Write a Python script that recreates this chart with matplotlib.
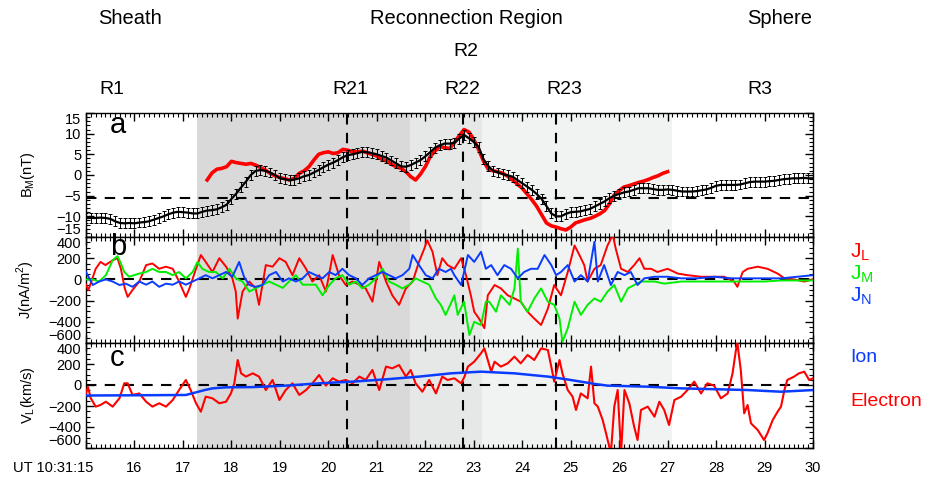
import matplotlib
matplotlib.use("Agg")
import matplotlib.pyplot as plt
from matplotlib.ticker import MultipleLocator
from matplotlib.transforms import ScaledTranslation

plt.rcParams["font.family"] = ["Liberation Sans", "DejaVu Sans"]

# B_M model (black, 0.1 s cadence from 10:31:15)
BM_T = [15.0 + 0.1 * i for i in range(151)]
BM_BLACK = [
    -10.4, -10.4, -10.4, -10.3, -10.4, -10.6, -11.2, -11.6, -11.7, -11.6,
    -11.7, -11.5, -11.4, -11.2, -10.8, -10.4, -10.0, -9.5, -9.1, -8.9,
    -9.0, -9.1, -9.3, -9.3, -8.9, -8.6, -8.5, -8.3, -7.8, -7.2,
    -5.8, -4.5, -3.0, -1.6, 0.0, 1.0, 1.2, 1.0, 0.6, 0.0,
    -0.8, -1.0, -1.3, -1.1, -0.8, -0.3, 0.0, 0.6, 1.2, 1.9,
    2.5, 3.0, 3.6, 4.3, 4.8, 5.0, 5.3, 5.6, 5.5, 5.3,
    5.0, 4.6, 4.2, 3.5, 2.8, 2.1, 2.0, 2.4, 3.0, 3.6,
    4.5, 5.5, 6.6, 7.2, 7.6, 7.6, 7.8, 8.8, 9.7, 8.9,
    8.0, 6.8, 3.8, 2.2, 1.0, 0.6, 0.2, -0.1, -0.4, -1.2,
    -2.0, -2.8, -3.6, -4.6, -5.8, -7.5, -9.3, -10.0, -10.0, -9.4,
    -9.0, -8.9, -8.8, -8.5, -8.2, -7.6, -7.0, -6.4, -5.6, -5.0,
    -4.6, -4.2, -4.0, -3.6, -3.2, -3.2, -3.2, -3.4, -3.6, -3.6,
    -3.5, -3.6, -3.8, -4.0, -4.0, -4.0, -3.9, -3.7, -3.5, -3.1,
    -2.6, -2.4, -2.4, -2.4, -2.4, -2.3, -2.0, -1.7, -1.6, -1.6,
    -1.6, -1.5, -1.4, -1.2, -1.0, -0.9, -0.8, -0.8, -0.7, -0.8,
    -0.8,
]
BM_ERR = 1.2

# B_M observed (red)
BMR_T = [17.5 + 0.1 * i for i in range(96)]
BM_RED = [
    -1.2, 0.5, 1.4, 1.6, 2.0, 3.3, 3.0, 2.8, 2.6, 2.8,
    2.4, 1.8, 1.2, 0.4, -0.2, -0.6, -0.9, -1.2, -0.8, 0.4,
    1.0, 2.0, 3.6, 5.0, 5.4, 5.6, 5.2, 5.4, 6.2, 6.0,
    5.6, 5.6, 5.8, 5.4, 5.0, 4.6, 3.8, 3.4, 2.6, 2.0,
    1.6, 0.8, -0.4, -1.2, 0.2, 2.0, 4.4, 5.8, 6.9, 6.6,
    6.4, 7.8, 9.5, 11.0, 10.4, 8.6, 6.2, 3.4, 1.4, 1.0,
    0.8, 0.4, -0.3, -1.2, -2.2, -3.2, -4.6, -6.0, -7.6, -9.6,
    -11.6, -12.3, -12.6, -13.0, -13.3, -12.6, -11.6, -11.2, -10.8, -10.5,
    -10.0, -9.4, -8.6, -7.0, -4.8, -3.8, -2.9, -2.6, -2.2, -1.8,
    -1.5, -1.1, -0.6, -0.2, 0.4, 0.8,
]
BM_REF = -5.5

# current density components (nA/m^2)
JL_T = [15.0, 15.05, 15.2, 15.3, 15.4, 15.55, 15.65, 15.72, 15.8, 15.86, 15.96, 16.1, 16.24, 16.37,
        16.51, 16.65, 16.79, 16.92, 17.06, 17.13, 17.27, 17.37, 17.47, 17.61, 17.75, 17.89, 18.02,
        18.09, 18.13, 18.23, 18.37, 18.5, 18.57, 18.71, 18.85, 18.99, 19.12, 19.26, 19.4, 19.54,
        19.67, 19.81, 19.95, 20.09, 20.22, 20.36, 20.5, 20.64, 20.77, 20.91, 21.05, 21.19, 21.32,
        21.46, 21.6, 21.74, 21.87, 21.98, 22.04, 22.15, 22.25, 22.35, 22.46, 22.6, 22.74, 22.84,
        22.94, 23.01, 23.11, 23.22, 23.29, 23.43, 23.56, 23.7, 23.84, 23.97, 24.11, 24.25, 24.39,
        24.53, 24.66, 24.8, 24.94, 25.08, 25.18, 25.28, 25.35, 25.49, 25.62, 25.76, 25.87, 25.93,
        26.04, 26.18, 26.31, 26.42, 26.52, 26.66, 26.79, 27.0, 27.21, 27.41, 27.69, 27.96, 28.17,
        28.37, 28.44, 28.55, 28.65, 28.86, 29.06, 29.27, 29.41, 29.61, 29.82, 30.0]
JL = [-50, -100, 100, 165, 135, 180, 200, 100, -85, -165, -100, -20, 135, 150,
      100, 120, 100, -20, -165, -90, 100, 230, 165, 70, 200, 120, 10,
      -115, -370, -115, -20, -85, -240, 135, 120, 200, 165, 40, 200, 100,
      -20, 40, -115, 230, 40, -53, -20, -50, -85, -210, 165, -20, -150,
      -240, -85, -20, 165, 290, 370, 260, 40, 200, 135, 100, 200, 40,
      -150, -305, -370, -460, -150, -53, -85, -150, -180, -210, -305, -370, -430,
      -275, -53, -150, 70, 320, 230, 135, -20, 100, 135, 320, 420, 290,
      100, 70, 135, 200, 100, 100, 70, 100, 55, 40, 25, 25, 25,
      -20, -70, 70, 100, 120, 100, 55, 10, 0, -20, 0]

JM_T = [15.0, 15.14, 15.27, 15.41, 15.55, 15.65, 15.72, 15.79, 15.89, 16.1, 16.24, 16.37, 16.51,
        16.65, 16.79, 16.92, 17.06, 17.2, 17.3, 17.4, 17.54, 17.68, 17.82, 17.96, 18.09, 18.23,
        18.37, 18.5, 18.64, 18.78, 18.92, 19.06, 19.19, 19.33, 19.47, 19.6, 19.74, 19.88, 20.02,
        20.15, 20.29, 20.43, 20.57, 20.7, 20.84, 20.98, 21.12, 21.25, 21.39, 21.53, 21.67, 21.8,
        21.94, 22.08, 22.22, 22.32, 22.42, 22.53, 22.6, 22.67, 22.8, 22.91, 23.01, 23.15, 23.25,
        23.32, 23.46, 23.56, 23.74, 23.84, 23.91, 23.97, 24.11, 24.25, 24.39, 24.53, 24.66, 24.77,
        24.83, 24.94, 25.08, 25.21, 25.35, 25.49, 25.62, 25.76, 25.9, 26.04, 26.18, 26.31, 26.45,
        26.59, 26.73, 26.93, 27.28, 27.62, 27.96, 28.31, 28.65, 29.0, 29.34, 29.68, 30.0]
JM = [0, 0, -20, 40, 180, 220, 150, 70, 25, 55, 70, 100, 70,
      70, 40, 70, 10, 70, 165, 100, 70, 70, 10, 100, 10, -20,
      -115, -85, -53, -20, -50, -80, -20, 40, -50, -50, -50, -150, -53,
      10, 40, -50, -20, -85, -50, 10, 100, -20, -50, -85, -50, 10,
      -20, -50, -180, -240, -335, -225, -150, -335, -210, -525, -400, -430, -210,
      -210, -305, -150, -240, -85, 290, -210, -305, -180, -85, -210, -240, -370,
      -590, -460, -210, -335, -240, -180, -210, -115, -53, -210, -85, -53, -20,
      -20, -20, -40, -20, -20, -20, -20, -20, -20, -10, -10, -10]

JN_T = [15.0, 15.14, 15.27, 15.41, 15.55, 15.69, 15.82, 15.96, 16.1, 16.24, 16.37, 16.51, 16.65,
        16.79, 16.92, 17.06, 17.2, 17.34, 17.47, 17.61, 17.75, 17.89, 18.02, 18.16, 18.26, 18.37,
        18.5, 18.64, 18.78, 18.92, 19.06, 19.19, 19.33, 19.47, 19.6, 19.74, 19.88, 20.02, 20.15,
        20.29, 20.43, 20.57, 20.7, 20.84, 20.98, 21.12, 21.25, 21.39, 21.53, 21.67, 21.74, 21.87,
        22.01, 22.15, 22.28, 22.42, 22.53, 22.6, 22.74, 22.88, 23.01, 23.15, 23.25, 23.36, 23.49,
        23.63, 23.77, 23.91, 24.04, 24.18, 24.32, 24.46, 24.6, 24.7, 24.8, 24.94, 25.08, 25.21,
        25.35, 25.49, 25.56, 25.69, 25.83, 25.97, 26.11, 26.24, 26.38, 26.52, 26.73, 27.0, 27.28,
        27.62, 27.96, 28.31, 28.65, 29.0, 29.34, 29.68, 30.0]
JN = [70, -53, -20, 0, -20, -53, -40, -70, -20, -50, -20, -70, -40,
      -50, -20, -50, -20, 10, 40, 10, 40, 70, 25, 165, 25, -53,
      -70, -53, 40, 70, -20, 10, -20, 10, 70, 40, 10, 70, 40,
      100, 40, 10, -53, 10, 40, 70, 40, 10, 40, 100, 230, 135,
      40, 10, 100, 70, 100, 40, -53, 230, 165, 260, 100, 135, 40,
      135, 100, 10, 70, 100, 100, 230, 135, 40, 70, 135, -20, 40,
      -20, 355, -20, 135, -53, 70, 40, 70, -53, 10, 25, 25, 10,
      10, 25, 10, 10, 10, 10, 25, 40]

# L-component velocities (km/s)
VE_T = [15.0, 15.04, 15.1, 15.2, 15.3, 15.41, 15.55, 15.69, 15.79, 15.86, 15.96, 16.1, 16.24,
        16.37, 16.51, 16.65, 16.79, 16.92, 17.06, 17.16, 17.27, 17.37, 17.47, 17.61, 17.75, 17.89,
        17.99, 18.06, 18.13, 18.2, 18.3, 18.44, 18.57, 18.71, 18.85, 18.99, 19.12, 19.26, 19.4,
        19.54, 19.67, 19.81, 19.95, 20.09, 20.22, 20.36, 20.5, 20.64, 20.77, 20.91, 21.05, 21.19,
        21.32, 21.46, 21.6, 21.7, 21.8, 21.94, 22.08, 22.22, 22.35, 22.46, 22.6, 22.74, 22.81,
        22.88, 23.01, 23.15, 23.22, 23.29, 23.36, 23.43, 23.56, 23.7, 23.84, 23.97, 24.11, 24.25,
        24.39, 24.53, 24.6, 24.66, 24.77, 24.83, 24.94, 25.04, 25.11, 25.21, 25.35, 25.42, 25.49,
        25.56, 25.66, 25.73, 25.83, 25.9, 25.97, 26.04, 26.11, 26.21, 26.31, 26.38, 26.45, 26.59,
        26.73, 26.83, 26.93, 27.03, 27.14, 27.28, 27.41, 27.55, 27.69, 27.82, 27.96, 28.1, 28.24,
        28.34, 28.41, 28.44, 28.51, 28.58, 28.65, 28.72, 28.86, 28.99, 29.06, 29.17, 29.27, 29.34,
        29.41, 29.47, 29.61, 29.71, 29.82, 29.92, 30.0]
VE = [-80, -20, -127, -206, -190, -159, -206, -127, 16, 16, -95, -80, -159,
      -206, -174, -206, -143, -48, 48, -48, -174, -254, -111, -127, -174, -159,
      -80, 16, 238, 111, 80, 111, 80, -48, 48, -143, -48, 16, -95,
      -48, 16, 95, -6, 64, 32, 48, 16, 80, 48, 143, -48, 175,
      159, 190, 80, 143, 16, -64, 48, -80, 80, 48, 64, 16, 80,
      175, 222, 302, 349, 238, 127, 222, 175, 206, 270, 206, 286, 238,
      349, 333, 175, 32, 238, 111, -48, -111, -238, -80, -127, 175, -174,
      -206, -333, -460, -650, -206, -48, -650, -48, -174, -397, -524, -238, -206,
      -302, -159, -238, -381, -143, -111, -48, 32, -80, 16, -6, -127, -80,
      111, 333, 400, 143, -270, -190, -365, -429, -524, -460, -333, -254, -206,
      -48, 48, 80, 111, 127, 48, 64]

VI_T = [15.0, 16.0, 17.06, 17.27, 17.45, 17.61, 17.89, 18.44, 19.12, 19.81, 20.5, 21.19, 21.87,
        22.53, 23.15, 23.84, 24.53, 24.9, 25.21, 25.5, 25.76, 26.59, 27.28, 27.96, 28.65, 29.34, 30.0]
VI = [-100, -98, -95, -70, -48, -32, -22, -20, -6, 16, 32, 54, 80,
      111, 127, 111, 80, 55, 32, 10, -6, -16, -32, -40, -48, -64, -48]

# shaded intervals and reference times
SHADE = [(17.28, 21.68, "#d9d9d9"), (21.68, 23.18, "#e6e7e7"), (23.18, 27.09, "#f1f3f3")]
R_TIMES = [20.38, 22.77, 24.69]

RED, GREEN, BLUE = "#ff0000", "#00ee00", "#0a3cff"

W, H = 934, 480
fig = plt.figure(figsize=(W / 100, H / 100), dpi=100)


def px_axes(top, bottom):
    return [86 / W, 1 - bottom / H, (813 - 86) / W, (bottom - top) / H]


ax_a = fig.add_axes(px_axes(113, 237))
ax_b = fig.add_axes(px_axes(237, 343), sharex=ax_a)
ax_c = fig.add_axes(px_axes(343, 448), sharex=ax_a)
axes = [ax_a, ax_b, ax_c]

for ax in axes:
    for x0, x1, c in SHADE:
        ax.axvspan(x0, x1, color=c, lw=0, zorder=0)
    for rt in R_TIMES:
        ax.axvline(rt, color="k", lw=1.5, ls=(0, (5, 4)), zorder=1)
    ax.set_xlim(15, 30)
    ax.xaxis.set_major_locator(MultipleLocator(1))
    ax.xaxis.set_minor_locator(MultipleLocator(0.1))
    ax.tick_params(which="both", direction="in", top=True, right=True, labelsize=10.5)
    ax.tick_params(which="major", length=6, width=1)
    ax.tick_params(which="minor", length=3, width=0.8)
    for s in ax.spines.values():
        s.set_linewidth(1)

# panel a
ax_a.axhline(BM_REF, color="k", lw=1.5, ls=(0, (5, 4)), zorder=1)
ax_a.plot(BMR_T, BM_RED, color=RED, lw=2.6, zorder=3)
ax_a.errorbar(BM_T, BM_BLACK, yerr=BM_ERR, color="k", lw=1.6, elinewidth=0.7,
              capsize=1.4, capthick=0.7, zorder=4)
ax_a.set_ylim(-15, 15)
ax_a.set_yticks([-15, -10, -5, 0, 5, 10, 15])
ax_a.yaxis.set_minor_locator(MultipleLocator(1))
ax_a.set_ylabel("B$_{\\mathregular{M}}$(nT)", fontsize=10.5)

# panel b
ax_b.axhline(0, color="k", lw=1.5, ls=(0, (5, 4)), zorder=1)
ax_b.plot(JL_T, JL, color=RED, lw=1.4, zorder=3)
ax_b.plot(JM_T, JM, color=GREEN, lw=1.4, zorder=3)
ax_b.plot(JN_T, JN, color=BLUE, lw=1.4, zorder=4)
ax_b.set_ylabel("J(nA/m$^{\\mathregular{2}}$)", fontsize=10.5)

# panel c
ax_c.axhline(0, color="k", lw=1.5, ls=(0, (5, 4)), zorder=1)
ax_c.plot(VE_T, VE, color=RED, lw=1.5, zorder=3)
ax_c.plot(VI_T, VI, color=BLUE, lw=1.8, zorder=4)
ax_c.set_ylabel("V$_{\\mathregular{L}}$(km/s)", fontsize=10.5)

for ax in (ax_b, ax_c):
    ax.set_ylim(-600, 400)
    ax.set_yticks([-600, -400, -200, 0, 200, 400])
    ax.yaxis.set_minor_locator(MultipleLocator(50))

for ax in axes:
    ax.yaxis.set_label_coords(-0.068, 0.5)

for ax in (ax_a, ax_b):
    ax.tick_params(labelbottom=False)

xt = list(range(15, 31))
ax_c.set_xticks(xt)
ax_c.set_xticklabels(["UT 10:31:15"] + [str(v) for v in xt[1:]])
ax_c.tick_params(axis="x", pad=9, labelsize=10.5)

# edge labels pulled inside like the original
fig.canvas.draw()
for ax in axes:
    labs = ax.get_yticklabels()
    labs[0].set_va("bottom")
    labs[-1].set_va("top")
first = ax_c.get_xticklabels()[0]
first.set_ha("right")
first.set_transform(first.get_transform() + ScaledTranslation(0.07, 0, fig.dpi_scale_trans))

# panel letters
ax_a.text(0.033, 0.84, "a", transform=ax_a.transAxes, fontsize=21, va="baseline")
ax_b.text(0.033, 0.83, "b", transform=ax_b.transAxes, fontsize=21, va="baseline")
ax_c.text(0.033, 0.78, "c", transform=ax_c.transAxes, fontsize=21, va="baseline")


# header labels
def ftext(x, y, s, size=14.5):
    fig.text(x / W, 1 - y / H, s, ha="center", va="center", fontsize=size)


ftext(130, 18, "Sheath")
ftext(466, 18, "Reconnection Region")
ftext(780, 18, "Sphere")
ftext(466, 52, "R2", 14)
for x, s in [(112, "R1"), (350, "R21"), (462, "R22"), (564, "R23"), (760, "R3")]:
    ftext(x, 90, s, 14)

# right-side legends
fig.text(850 / W, 1 - 252 / H, "J$_{\\mathregular{L}}$", color=RED, fontsize=15, va="center")
fig.text(850 / W, 1 - 274 / H, "J$_{\\mathregular{M}}$", color=GREEN, fontsize=15, va="center")
fig.text(850 / W, 1 - 296 / H, "J$_{\\mathregular{N}}$", color=BLUE, fontsize=15, va="center")
fig.text(850 / W, 1 - 358 / H, "Ion", color=BLUE, fontsize=14, va="center")
fig.text(850 / W, 1 - 402 / H, "Electron", color=RED, fontsize=14, va="center")

fig.savefig("out.png", dpi=100, facecolor="white")
